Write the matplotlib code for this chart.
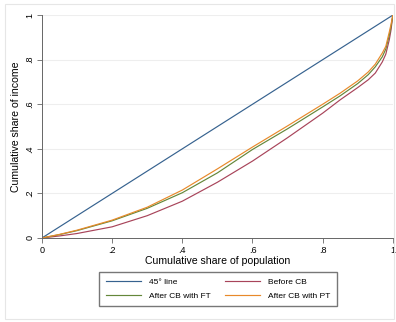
import matplotlib.pyplot as plt
from matplotlib.patches import Rectangle

plt.rcParams['font.family'] = ['Liberation Sans', 'DejaVu Sans']

# cumulative share of population
pop = [0, 0.05, 0.1, 0.2, 0.3, 0.4, 0.5, 0.6, 0.7, 0.8, 0.85, 0.9, 0.93, 0.95, 0.97, 0.98, 0.99, 0.995, 1.0]

# cumulative share of income
before_cb = [0, 0.009, 0.02, 0.05, 0.1, 0.165, 0.25, 0.345, 0.45, 0.56, 0.62, 0.675, 0.71, 0.74, 0.79, 0.825, 0.89, 0.935, 1.0]
after_ft = [0, 0.015, 0.033, 0.077, 0.133, 0.203, 0.292, 0.397, 0.49, 0.588, 0.638, 0.693, 0.733, 0.768, 0.813, 0.848, 0.91, 0.95, 1.0]
after_pt = [0, 0.016, 0.035, 0.08, 0.138, 0.215, 0.31, 0.408, 0.503, 0.6, 0.65, 0.705, 0.745, 0.78, 0.83, 0.86, 0.925, 0.96, 1.0]

diag = [0, 1]

labels = ['45° line', 'Before CB', 'After CB with FT', 'After CB with PT']
colors = ['#36628f', '#a8445a', '#64873a', '#e8892a']

fig = plt.figure(figsize=(3.96, 3.22), dpi=100)
fig.patches.append(Rectangle((0.012, 0.01), 0.982, 0.978, transform=fig.transFigure,
                             fill=False, edgecolor='#e6e6e6', linewidth=0.8))
ax = fig.add_axes([0.106, 0.261, 0.886, 0.692])

l0, = ax.plot(diag, diag, color=colors[0], lw=0.85)
l1, = ax.plot(pop, before_cb, color=colors[1], lw=0.85)
l2, = ax.plot(pop, after_ft, color=colors[2], lw=0.85)
l3, = ax.plot(pop, after_pt, color=colors[3], lw=0.85)

ax.set_xlim(0, 1)
ax.set_ylim(0, 1)
ticks = [0, 0.2, 0.4, 0.6, 0.8, 1]
ticklabels = ['0', '.2', '.4', '.6', '.8', '1']
ax.set_xticks(ticks)
ax.set_xticklabels(ticklabels, fontsize=6.5)
ax.set_yticks(ticks)
ax.set_yticklabels(ticklabels, fontsize=6.5, rotation=90, va='center')
ax.tick_params(direction='out', length=3.5, width=0.6, color='#666666', pad=2)

for s in ['top', 'right']:
    ax.spines[s].set_visible(False)
for s in ['left', 'bottom']:
    ax.spines[s].set_color('#666666')
    ax.spines[s].set_linewidth(0.7)

for v in ticks[1:]:
    ax.axhline(v, color='#eeeeee', lw=0.8, zorder=0)

ax.set_xlabel('Cumulative share of population', fontsize=7.6, labelpad=1)
ax.set_ylabel('Cumulative share of income', fontsize=7.6, labelpad=3)

# column-major order so rows read: 45° / Before, FT / PT
fig.legend([l0, l2, l1, l3], [labels[0], labels[2], labels[1], labels[3]],
           loc='center', bbox_to_anchor=(0.5505, 0.1025), ncol=2, fontsize=6,
           frameon=True, fancybox=False, edgecolor='#777777', framealpha=1,
           handlelength=4.2, columnspacing=1.7, handletextpad=1.0,
           borderpad=0.75, labelspacing=0.8)

fig.savefig('out.png', dpi=100)
